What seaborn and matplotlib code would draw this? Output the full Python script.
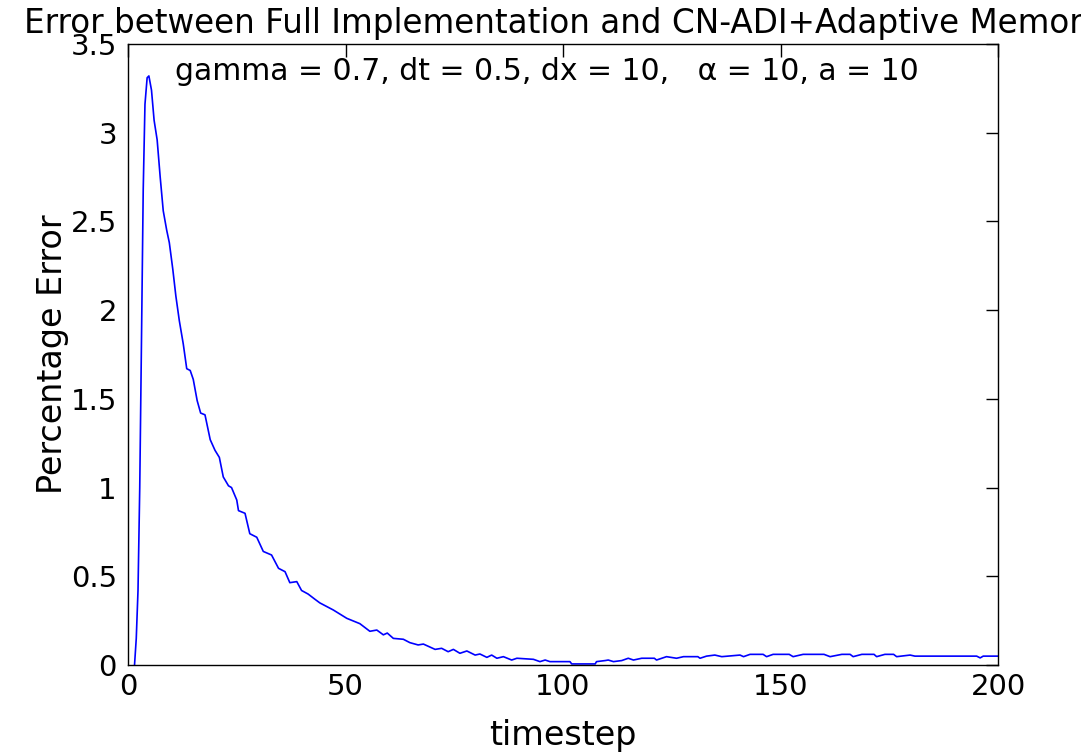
import matplotlib
matplotlib.use("Agg")
import matplotlib.pyplot as plt
import seaborn as sns
import pandas as pd

# ---- data ----
timestep = [1.5, 1.9, 2.3, 2.7, 3.1, 3.5, 3.9, 4.4, 4.8, 5.4, 6.0, 6.7, 7.4, 8.1, 8.9, 9.5,
            10.3, 11.0, 11.8, 12.7, 13.5, 14.3, 15.0, 15.9, 16.7, 17.7, 18.9, 20.0, 21.0,
            21.9, 23.1, 23.8, 25.0, 25.4, 26.9, 28.0, 29.6, 31.1, 33.0, 34.6, 36.1, 37.2,
            38.8, 39.9, 41.4, 43.0, 44.1, 47.2, 50.3, 53.3, 55.6, 57.2, 58.7, 59.6, 61.0,
            63.3, 64.8, 66.7, 67.9, 70.6, 72.1, 73.6, 74.8, 76.3, 77.9, 79.8, 80.9, 82.5,
            83.6, 84.8, 86.3, 88.2, 89.4, 93.2, 94.7, 95.9, 97.0, 101.6, 102.0, 107.4,
            107.7, 109.7, 110.4, 111.6, 113.5, 115.0, 116.2, 118.1, 121.0, 121.5, 123.8,
            126.1, 127.7, 131.0, 131.5, 133.0, 134.9, 136.5, 140.7, 141.5, 143.0, 146.0,
            146.8, 148.3, 152.0, 152.9, 155.2, 160.0, 161.4, 164.1, 166.0, 166.7, 168.7,
            171.5, 172.1, 174.0, 176.0, 176.7, 179.8, 180.9, 195.1, 195.9, 196.6, 200.0]
pct_error = [0.0, 0.15, 0.42, 1.0, 1.83, 2.68, 3.16, 3.31, 3.32, 3.24, 3.07, 2.96, 2.75,
             2.56, 2.45, 2.38, 2.23, 2.08, 1.94, 1.81, 1.67, 1.66, 1.61, 1.49, 1.42, 1.41,
             1.27, 1.21, 1.17, 1.06, 1.01, 1.00, 0.93, 0.87, 0.855, 0.74, 0.72, 0.64, 0.62,
             0.545, 0.526, 0.464, 0.47, 0.42, 0.40, 0.37, 0.35, 0.31, 0.263, 0.233, 0.19,
             0.197, 0.17, 0.18, 0.15, 0.145, 0.126, 0.113, 0.118, 0.088, 0.094, 0.075,
             0.088, 0.066, 0.079, 0.056, 0.062, 0.043, 0.056, 0.038, 0.047, 0.028, 0.038,
             0.032, 0.019, 0.028, 0.019, 0.019, 0.006, 0.006, 0.019, 0.025, 0.028, 0.019,
             0.025, 0.038, 0.028, 0.038, 0.038, 0.028, 0.047, 0.038, 0.047, 0.047, 0.038,
             0.05, 0.056, 0.047, 0.056, 0.047, 0.06, 0.06, 0.047, 0.06, 0.06, 0.047, 0.06,
             0.06, 0.047, 0.06, 0.06, 0.047, 0.06, 0.06, 0.047, 0.06, 0.06, 0.047, 0.056,
             0.05, 0.05, 0.04, 0.05, 0.05]
x_ticks = [0, 50, 100, 150, 200]
y_ticks = [0, 0.5, 1, 1.5, 2, 2.5, 3, 3.5]
y_tick_labels = ["0", "0.5", "1", "1.5", "2", "2.5", "3", "3.5"]

title = "Error between Full Implementation and CN-ADI+Adaptive Memory"
subtitle = "gamma = 0.7, dt = 0.5, dx = 10,   \u03b1 = 10, a = 10"
x_label = "timestep"
y_label = "Percentage Error"

df = pd.DataFrame({"timestep": timestep, "error": pct_error})

sns.set_style("white")
plt.rcParams["font.family"] = ["DejaVu Sans"]
plt.rcParams["text.color"] = "black"
plt.rcParams["axes.labelcolor"] = "black"
plt.rcParams["xtick.color"] = "black"
plt.rcParams["ytick.color"] = "black"

fig = plt.figure(figsize=(10.81, 7.53), dpi=100)
ax = fig.add_axes([128 / 1081, 88 / 753, 870 / 1081, 621 / 753])

sns.lineplot(data=df, x="timestep", y="error", ax=ax, color="#0000ff",
             linewidth=1.2, estimator=None, sort=False)

ax.set_xlim(0, 200)
ax.set_ylim(0, 3.5)
ax.set_xticks(x_ticks)
ax.set_yticks(y_ticks)
ax.set_yticklabels(y_tick_labels)
ax.tick_params(direction="in", length=9, width=1, top=True, right=True,
               labelsize=21, colors="black", pad=6)
ax.tick_params(axis="y", pad=8)
for s in ax.spines.values():
    s.set_visible(True)
    s.set_color("black")
    s.set_linewidth(1)

ax.set_xlabel(x_label, fontsize=24, labelpad=13, color="black")
ax.set_ylabel(y_label, fontsize=24, labelpad=1, color="black")

fig.text(563 / 1081, 1 - 33 / 753, title, ha="center", va="baseline",
         fontsize=23.5, color="black")
ax.text(0.482, 0.942, subtitle, transform=ax.transAxes, ha="center",
        va="baseline", fontsize=21.5, color="black")

fig.savefig("out.png", dpi=100, facecolor="white")
